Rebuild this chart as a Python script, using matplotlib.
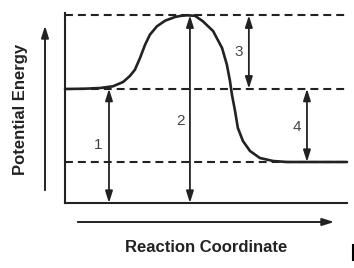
import matplotlib
matplotlib.use("Agg")
import matplotlib.pyplot as plt
from matplotlib.lines import Line2D
from matplotlib.patches import FancyArrowPatch

plt.rcParams['font.family'] = ['Liberation Sans', 'DejaVu Sans']

# energy levels (arbitrary units, baseline = 0)
reactant_level = 11.43
product_level = 4.1
peak_level = 18.77

# reaction profile
coord = [0.0, 0.71, 1.24, 1.70, 2.06, 2.30, 2.48, 2.66, 2.84, 3.01, 3.26, 3.55,
         3.90, 4.12, 4.33, 4.61, 4.89, 5.25, 5.57, 5.74, 5.85, 5.92, 6.03, 6.13,
         6.31, 6.56, 6.91, 7.38, 7.87, 10.0]
energy = [11.4, 11.43, 11.5, 11.67, 12.1, 12.7, 13.33, 14.5, 15.83, 16.83, 17.67, 18.23,
          18.6, 18.72, 18.77, 18.72, 18.17, 17.2, 15.5, 13.83, 12.2, 10.83, 9.2, 7.5,
          6.2, 5.2, 4.5, 4.2, 4.1, 4.1]

# double arrows: label, x position, bottom, top, label position
arrow_labels = ['1', '2', '3', '4']
arrow_x = [1.56, 4.43, 6.52, 8.58]
arrow_lo = [0, 0, reactant_level, product_level]
arrow_hi = [reactant_level, peak_level, peak_level, reactant_level]
label_x = [1.17, 4.08, 6.17, 8.23]
label_y = [5.8, 8.2, 15.1, 7.6]

ink = '#222222'
head = ',head_length=0.7,head_width=0.22'

fig = plt.figure(figsize=(3.54, 2.68), dpi=100)
ax = fig.add_axes([65 / 354, 65 / 268, 282 / 354, 190 / 268])
ax.set_xlim(0, 10)
ax.set_ylim(0, 19.0)
for s in ['top', 'right']:
    ax.spines[s].set_visible(False)
for s in ['left', 'bottom']:
    ax.spines[s].set_linewidth(1.5)
    ax.spines[s].set_color(ink)
ax.set_xticks([])
ax.set_yticks([])

for lvl in [product_level, reactant_level, peak_level]:
    ax.plot([0, 10], [lvl, lvl], color=ink, lw=1.5, linestyle=(0, (3.8, 2.4)),
            clip_on=False)

ax.plot(coord, energy, color=ink, lw=1.9, clip_on=False, solid_capstyle='round',
        solid_joinstyle='round')

for lab, x, lo, hi, lx, ly in zip(arrow_labels, arrow_x, arrow_lo, arrow_hi,
                                  label_x, label_y):
    ax.annotate('', xy=(x, hi), xytext=(x, lo),
                arrowprops=dict(arrowstyle='<|-|>' + head, color=ink, lw=1.3,
                                mutation_scale=10, shrinkA=0, shrinkB=0))
    ax.text(lx, ly, lab, fontsize=11, color='#444444', ha='center', va='center')

# axis arrows outside the box
fig.add_artist(FancyArrowPatch(
    (45 / 354, 75 / 268), (45 / 354, 245 / 268), transform=fig.transFigure,
    arrowstyle='-|>' + head, mutation_scale=10, color=ink, lw=1.4))
fig.add_artist(FancyArrowPatch(
    (75 / 354, 46 / 268), (337 / 354, 46 / 268), transform=fig.transFigure,
    arrowstyle='-|>' + head, mutation_scale=10, color=ink, lw=1.4))

fig.text(21 / 354, 159 / 268, 'Potential Energy', rotation=90, fontsize=12,
         fontweight='bold', color=ink, ha='center', va='center')
fig.text(206 / 354, 21 / 268, 'Reaction Coordinate', fontsize=12,
         fontweight='bold', color=ink, ha='center', va='center')

# small mark at the right edge
fig.add_artist(Line2D([352.5 / 354, 352.5 / 354], [8 / 268, 23 / 268],
                      transform=fig.transFigure, color='black', lw=1.5))

fig.savefig('out.png', dpi=100)
